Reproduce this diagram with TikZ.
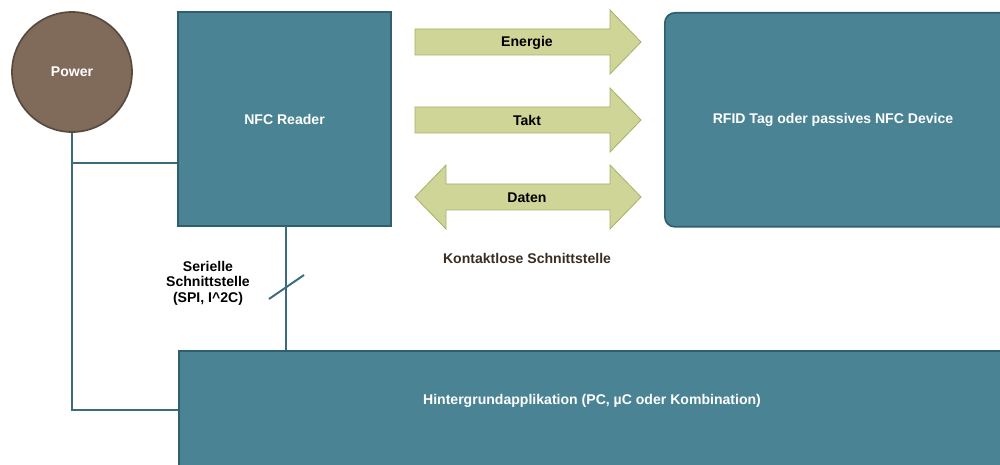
\documentclass[tikz,border=0pt]{standalone}
\usepackage{fontspec}
\setmainfont{Liberation Sans}
\usetikzlibrary{calc}
\definecolor{tealfill}{HTML}{4A8394}
\definecolor{tealline}{HTML}{2F5E6D}
\definecolor{wire}{HTML}{3C6C7C}
\definecolor{powerfill}{HTML}{806A5A}
\definecolor{powerline}{HTML}{5A4A3D}
\definecolor{arrowfill}{HTML}{CFD597}
\definecolor{arrowline}{HTML}{A7B16A}
\definecolor{labelbrown}{HTML}{3A2E22}
\tikzset{
  x=0.025cm, y=-0.025cm,
  txt/.style={font=\bfseries\fontsize{10}{12}\selectfont},
  block/.style={draw=tealline, line width=1.2pt, fill=tealfill, text=white, txt, inner sep=0pt},
  wireline/.style={draw=wire, line width=1.4pt},
  flow/.style={fill=arrowfill, draw=arrowline, line width=0.6pt, line join=miter},
}
\begin{document}
\begin{tikzpicture}
\useasboundingbox (0,0) rectangle (1000,465);

% blocks
\node[circle, draw=powerline, line width=1.2pt, fill=powerfill, text=white, txt,
      minimum size=120*0.025cm, inner sep=0pt] (power) at (72,72) {Power};
\node[block, minimum width=213*0.025cm, minimum height=214*0.025cm] (reader) at (284.5,119) {NFC Reader};
\node[block, rounded corners=10*0.025cm, minimum width=360*0.025cm, minimum height=214*0.025cm,
      anchor=north west] (tag) at (664,12) {};
\node[txt, text=white] (taglabel) at (833,120) {RFID Tag oder passives NFC Device};
\node[block, minimum width=860*0.025cm, minimum height=150*0.025cm, anchor=north west] (host) at (178,350) {};
\node[txt, text=white] (hostlabel) at (592,401) {Hintergrundapplikation (PC, µC oder Kombination)};

% power wiring
\coordinate (pj) at (72,163);
\coordinate (pb) at (72,410);
\draw[wireline] (power.south) -- (pb) -- (pb -| host.west);
\draw[wireline] (pj) -- (pj -| reader.west);

% serial link between reader and host
\coordinate (bus) at (286,226);
\draw[wireline] (bus) -- (bus |- host.north);
\coordinate (s1) at (269,299);
\coordinate (s2) at (304,275);
\draw[wireline] (s1) -- (s2);
\node[align=center, font=\bfseries\fontsize{10}{11}\selectfont] (serial) at (208,283) {Serielle\\Schnittstelle\\(SPI, I\^{}2C)};

% contactless interface arrows
\path[flow] (415,29) -- (610,29) -- (610,10) -- (641,42) -- (610,74) -- (610,55) -- (415,55) -- cycle;
\node[txt] (energie) at (527,43) {Energie};
\path[flow] (415,107) -- (610,107) -- (610,88) -- (641,120) -- (610,152) -- (610,133) -- (415,133) -- cycle;
\node[txt] (takt) at (527,120) {Takt};
\path[flow] (415,197) -- (446,165) -- (446,184) -- (610,184) -- (610,165) -- (641,197) -- (610,229) -- (610,210) -- (446,210) -- (446,229) -- cycle;
\node[txt] (daten) at (527,198) {Daten};
\node[txt, text=labelbrown] (kontakt) at (527,258) {Kontaktlose Schnittstelle};
\end{tikzpicture}
\end{document}
